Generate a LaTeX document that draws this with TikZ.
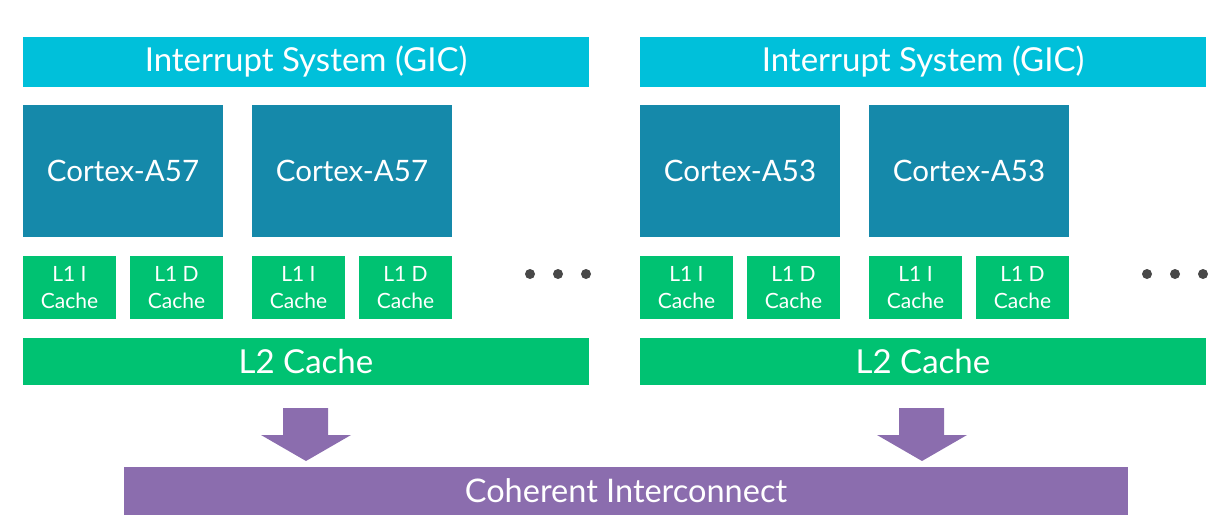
\documentclass[tikz,border=0pt]{standalone}
\usepackage{fontspec}
\setmainfont{Lato}
\definecolor{gic}{RGB}{0,192,218}
\definecolor{cpu}{RGB}{21,137,170}
\definecolor{cache}{RGB}{0,194,114}
\definecolor{coh}{RGB}{139,109,174}
\definecolor{dots}{RGB}{72,72,72}
\begin{document}
\begin{tikzpicture}[x=1pt,y=-1pt,
  blk/.style={draw=none,inner sep=0pt,text=white,align=center},
  gicbox/.style={blk,fill=gic,font=\fontsize{33}{38}\selectfont},
  cpubox/.style={blk,fill=cpu,font=\fontsize{29.5}{34}\selectfont},
  l1box/.style={blk,fill=cache,font=\fontsize{21}{27}\selectfont},
  l2box/.style={blk,fill=cache,font=\fontsize{33}{38}\selectfont},
  cohbox/.style={blk,fill=coh,font=\fontsize{32.5}{38}\selectfont},
  dot/.style={circle,fill=dots,inner sep=0pt,minimum size=10pt},
  bigarrow/.style={fill=coh,draw=none}]
\useasboundingbox (0,0) rectangle (1228,519);
\foreach \ox/\tag/\cpu in {0/L/A57,617/R/A53}{
  \node[gicbox,minimum width=566pt,minimum height=50pt] (gic\tag) at (306+\ox,62) {Interrupt System (GIC)};
  \node[cpubox,minimum width=200pt,minimum height=132pt] (cpuA\tag) at (123+\ox,171) {Cortex-\cpu};
  \node[cpubox,minimum width=200pt,minimum height=132pt] (cpuB\tag) at (352+\ox,171) {Cortex-\cpu};
  \node[l1box,minimum width=93pt,minimum height=63pt] (iA\tag) at (69.5+\ox,287.5) {L1 I\\Cache};
  \node[l1box,minimum width=93pt,minimum height=63pt] (dA\tag) at (176.5+\ox,287.5) {L1 D\\Cache};
  \node[l1box,minimum width=93pt,minimum height=63pt] (iB\tag) at (298.5+\ox,287.5) {L1 I\\Cache};
  \node[l1box,minimum width=93pt,minimum height=63pt] (dB\tag) at (405.5+\ox,287.5) {L1 D\\Cache};
  \node[dot] (d1\tag) at (530+\ox,274) {};
  \node[dot] (d2\tag) at (558+\ox,274) {};
  \node[dot] (d3\tag) at (586+\ox,274) {};
  \node[l2box,minimum width=566pt,minimum height=47pt] (l2\tag) at (306+\ox,361.5) {L2 Cache};
}
\node[cohbox,minimum width=1004pt,minimum height=48pt] (coh) at (626,491) {Coherent Interconnect};
\foreach \cx in {306,922}{
  \fill[bigarrow] (\cx-23,408) -- (\cx+22,408) -- (\cx+22,435) -- (\cx+45,435) -- (\cx,461) -- (\cx-45,435) -- (\cx-23,435) -- cycle;
}
\end{tikzpicture}
\end{document}
